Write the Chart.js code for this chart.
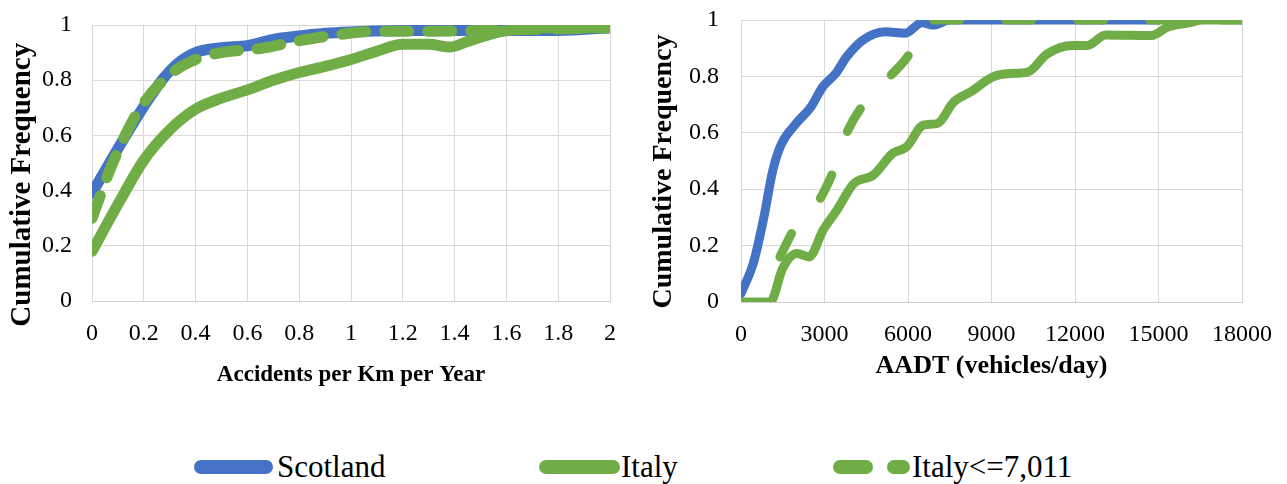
<!DOCTYPE html>
<html lang="en">
<head>
    <meta charset="UTF-8">
    <title>Cumulative Frequency - Scotland vs Italy</title>
    <script src="https://cdn.jsdelivr.net/npm/chart.js"></script>
    <style>
        body { margin: 0; background: #ffffff; width: 1287px; height: 484px; position: relative; overflow: hidden; }
        canvas { position: absolute; top: 0; }
        #rateChart { left: 0; }
        #aadtChart { left: 640px; }
        .legend-item { position: absolute; top: 447px; height: 40px; font-family: "Liberation Serif", "Times New Roman", serif; font-size: 31px; color: #000; line-height: 40px; }
        .legend-item svg { position: absolute; top: 0; }
    </style>
</head>
<body>
    <canvas id="rateChart" width="640" height="400"></canvas>
    <canvas id="aadtChart" width="647" height="400"></canvas>

    <div class="legend-item" style="left:188px;">
        <svg width="92" height="40"><line x1="13" y1="20" x2="78" y2="20" stroke="#4472C4" stroke-width="14" stroke-linecap="round"/></svg>
        <span style="position:absolute; left:89px; white-space:nowrap;">Scotland</span>
    </div>
    <div class="legend-item" style="left:532px;">
        <svg width="92" height="40"><line x1="14" y1="20" x2="81" y2="20" stroke="#70AD47" stroke-width="14" stroke-linecap="round"/></svg>
        <span style="position:absolute; left:89px; white-space:nowrap;">Italy</span>
    </div>
    <div class="legend-item" style="left:824px;">
        <svg width="92" height="40"><line x1="16" y1="20" x2="42" y2="20" stroke="#70AD47" stroke-width="14" stroke-linecap="round"/><line x1="70" y1="20" x2="79" y2="20" stroke="#70AD47" stroke-width="14" stroke-linecap="round"/></svg>
        <span style="position:absolute; left:88px; white-space:nowrap;">Italy&lt;=7,011</span>
    </div>

    <script>
        // Legend / series names
        const seriesNames = ['Scotland', 'Italy', 'Italy<=7,011'];

        // Left chart: accidents per km per year
        const rateTicks = [0, 0.2, 0.4, 0.6, 0.8, 1, 1.2, 1.4, 1.6, 1.8, 2];
        const scotlandRateX = [0, 0.08, 0.15, 0.2, 0.27, 0.33, 0.4, 0.5, 0.6, 0.7, 0.8, 0.9, 1.0, 1.2, 1.4, 1.6, 1.8, 2.0];
        const scotlandRateY = [0.39, 0.52, 0.63, 0.705, 0.8, 0.86, 0.9, 0.918, 0.925, 0.948, 0.96, 0.97, 0.975, 0.98, 0.98, 0.98, 0.98, 0.99];
        const italyRateX = [0, 0.1, 0.2, 0.3, 0.4, 0.5, 0.6, 0.7, 0.8, 0.9, 1.0, 1.1, 1.2, 1.3, 1.38, 1.45, 1.55, 1.65, 1.8, 2.0];
        const italyRateY = [0.18, 0.35, 0.51, 0.62, 0.695, 0.735, 0.765, 0.8, 0.828, 0.85, 0.875, 0.905, 0.93, 0.93, 0.92, 0.94, 0.97, 0.985, 0.99, 0.99];
        const italyLowRateX = [0, 0.08, 0.18, 0.3, 0.4, 0.5, 0.65, 0.8, 0.95, 1.1, 1.3, 1.5, 2.0];
        const italyLowRateY = [0.3, 0.5, 0.69, 0.82, 0.875, 0.9, 0.915, 0.943, 0.965, 0.977, 0.977, 0.98, 0.99];

        // Right chart: AADT (vehicles/day)
        const aadtTicks = [0, 3000, 6000, 9000, 12000, 15000, 18000];
        const scotlandAadtX = [0, 450, 800, 1150, 1450, 2000, 2500, 2950, 3400, 3800, 4400, 5200, 5900, 6500, 6900, 7500, 15000];
        const scotlandAadtY = [0.03, 0.14, 0.29, 0.47, 0.56, 0.635, 0.69, 0.765, 0.81, 0.87, 0.93, 0.958, 0.953, 0.99, 0.982, 1.0, 1.0];
        const italyAadtX = [0, 1050, 1500, 2000, 2450, 2950, 3450, 4050, 4750, 5450, 5950, 6550, 7050, 7650, 8250, 9050, 9650, 10300, 11000, 11900, 12450, 13100, 14750, 15350, 16100, 16600, 18000];
        const italyAadtY = [0, 0, 0.12, 0.172, 0.16, 0.255, 0.326, 0.42, 0.45, 0.527, 0.55, 0.627, 0.633, 0.71, 0.745, 0.798, 0.81, 0.815, 0.88, 0.91, 0.91, 0.947, 0.945, 0.976, 0.99, 1.0, 1.0];
        const italyLowAadtX = [1400, 2000, 2400, 2800, 3300, 3800, 4400, 4800, 5350, 6050, 6400, 6800, 18000];
        const italyLowAadtY = [0.16, 0.275, 0.32, 0.36, 0.46, 0.6, 0.7, 0.74, 0.8, 0.88, 0.95, 1.0, 1.0];

        const freqTicks = [0, 0.2, 0.4, 0.6, 0.8, 1];

        const blue = '#4472C4';
        const green = '#70AD47';
        const gridColor = '#d9d9d9';
        const serif = '"Liberation Serif", "Times New Roman", serif';

        function toPoints(xs, ys) {
            return xs.map((x, i) => ({ x: x, y: ys[i] }));
        }

        function lineSet(label, xs, ys, color, width, dash, order) {
            return {
                label: label,
                data: toPoints(xs, ys),
                borderColor: color,
                backgroundColor: color,
                borderWidth: width,
                borderDash: dash,
                borderCapStyle: 'round',
                borderJoinStyle: 'round',
                pointRadius: 0,
                cubicInterpolationMode: 'monotone',
                fill: false,
                order: order
            };
        }

        function makeOptions(cfg) {
            return {
                responsive: false,
                animation: false,
                events: [],
                layout: { padding: cfg.padding },
                plugins: { legend: { display: false }, tooltip: { enabled: false } },
                scales: {
                    x: {
                        type: 'linear',
                        min: cfg.xTicks[0],
                        max: cfg.xTicks[cfg.xTicks.length - 1],
                        afterBuildTicks: (scale) => { scale.ticks = cfg.xTicks.map(v => ({ value: v })); },
                        afterFit: (scale) => {
                            scale.height = cfg.xAxisHeight;
                            scale.paddingLeft = 0;
                            scale.paddingRight = 0;
                        },
                        grid: { color: gridColor, drawTicks: false },
                        border: { color: '#cfcfcf' },
                        ticks: {
                            color: '#000',
                            padding: 18,
                            maxRotation: 0,
                            autoSkip: false,
                            font: { family: serif, size: 24 },
                            callback: (v) => String(v)
                        },
                        title: {
                            display: true,
                            text: cfg.xTitle,
                            color: '#000',
                            padding: { top: 0, bottom: cfg.xTitlePad },
                            font: { family: serif, size: cfg.xTitleSize, weight: 'bold' }
                        }
                    },
                    y: {
                        min: 0,
                        max: 1,
                        afterBuildTicks: (scale) => { scale.ticks = freqTicks.map(v => ({ value: v })); },
                        afterFit: (scale) => {
                            scale.width = cfg.yAxisWidth;
                            scale.paddingTop = 0;
                            scale.paddingBottom = 0;
                        },
                        grid: { color: gridColor, drawTicks: false },
                        border: { color: gridColor },
                        ticks: {
                            color: '#000',
                            padding: cfg.yTickPad,
                            font: { family: serif, size: 24 },
                            callback: (v) => String(+v.toFixed(1))
                        },
                        title: {
                            display: true,
                            // trailing spaces nudge the rotated title down like the original
                            text: 'Cumulative Frequency' + ' '.repeat(cfg.yTitleShift),
                            color: '#000',
                            padding: { top: cfg.yTitlePad, bottom: 0 },
                            font: { family: serif, size: cfg.yTitleSize, weight: 'bold' }
                        }
                    }
                }
            };
        }

        new Chart(document.getElementById('rateChart').getContext('2d'), {
            type: 'line',
            data: {
                datasets: [
                    lineSet(seriesNames[0], scotlandRateX, scotlandRateY, blue, 11, [], 3),
                    lineSet(seriesNames[1], italyRateX, italyRateY, green, 11, [], 2),
                    lineSet(seriesNames[2], italyLowRateX, italyLowRateY, green, 11, [24, 19], 1)
                ]
            },
            options: makeOptions({
                padding: { top: 25, right: 30, bottom: 0, left: 0 },
                xTicks: rateTicks,
                xAxisHeight: 99,
                xTitle: 'Accidents per Km per Year',
                xTitleSize: 23,
                xTitlePad: 11,
                yAxisWidth: 92,
                yTickPad: 20,
                yTitlePad: 5,
                yTitleSize: 29,
                yTitleShift: 6
            })
        });

        new Chart(document.getElementById('aadtChart').getContext('2d'), {
            type: 'line',
            data: {
                datasets: [
                    lineSet(seriesNames[0], scotlandAadtX, scotlandAadtY, blue, 9, [], 3),
                    lineSet(seriesNames[1], italyAadtX, italyAadtY, green, 9, [], 2),
                    lineSet(seriesNames[2], italyLowAadtX, italyLowAadtY, green, 9, [26, 46], 1)
                ]
            },
            options: makeOptions({
                padding: { top: 20, right: 45, bottom: 0, left: 0 },
                xTicks: aadtTicks,
                xAxisHeight: 98,
                xTitle: 'AADT (vehicles/day)',
                xTitleSize: 26,
                xTitlePad: 18,
                yAxisWidth: 101,
                yTickPad: 22,
                yTitlePad: 7,
                yTitleSize: 28,
                yTitleShift: 3
            })
        });
    </script>
</body>
</html>
